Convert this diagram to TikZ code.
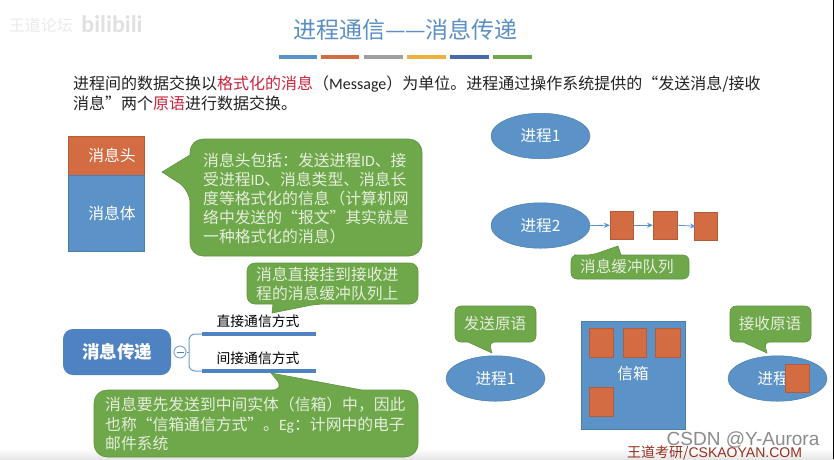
\documentclass[tikz,border=0pt]{standalone}
\usepackage{fontspec}
\setmainfont{Noto Sans CJK SC}
\newfontfamily\latf{Carlito}
\newfontfamily\arif{Liberation Sans}
\newcommand{\la}[1]{{\latf #1}}
\usetikzlibrary{shapes.geometric,arrows.meta}
\definecolor{cblue}{HTML}{5B93C8}
\definecolor{cdblue}{HTML}{4E82C0}
\definecolor{corange}{HTML}{D36C43}
\definecolor{cgreen}{HTML}{6FA84A}
\definecolor{cgborder}{HTML}{5F9440}
\definecolor{cred}{HTML}{C8243C}
\definecolor{cbody}{HTML}{222222}
\definecolor{ctitle}{HTML}{5B8FC4}
\definecolor{cgray}{HTML}{A0A0A0}
\definecolor{cyellow}{HTML}{EDB23C}
\definecolor{cnavy}{HTML}{4669A8}
\definecolor{cwtext}{HTML}{E4EEDC}
\definecolor{cbrown}{HTML}{9A2E1E}
\tikzset{
  bubble/.style={fill=cgreen,draw=cgborder,line width=0.6pt},
  btext/.style={text=cwtext,font=\fontsize{15.8}{19.2}\selectfont,align=left,anchor=west,inner sep=0pt},
  proc/.style={ellipse,fill=cblue,draw=cblue!85!black,line width=0.5pt,minimum width=99pt,minimum height=45.5pt,inner sep=0pt,text=white,font=\fontsize{15.6}{18}\selectfont},
  msg/.style={rectangle,fill=corange,draw=corange!85!black,line width=0.5pt,inner sep=0pt,anchor=north west},
  bar/.style={line width=3.6pt,draw=cdblue},
  tbar/.style={line width=3.8pt},
  link/.style={draw=cblue,line width=0.8pt,-{Stealth[length=6pt,width=5pt]}},
  blab/.style={font=\fontsize{13.8}{16}\selectfont,text=black,inner sep=0pt}
}
\begin{document}
\begin{tikzpicture}[x=1pt,y=-1pt]
\useasboundingbox (0,0) rectangle (834,459);
\fill[white] (0,0) rectangle (834,459);
\shade[top color=white,bottom color=black!10] (0,449) rectangle (834,459);
% watermark
\node[inner sep=0pt,text=black!8,font=\fontsize{16}{18}\selectfont] (wm1) at (41,25) {王道论坛};
\node[inner sep=0pt,text=black!12,font=\bfseries\fontsize{24}{26}\selectfont\latf] (wm2) at (112,24) {bilibili};
% title
\node[inner sep=0pt,text=ctitle,font=\fontsize{23}{26}\selectfont] (title) at (405.5,30) {进程通信—\kern-1pt—消息传递};
\draw[tbar,draw=cblue] (279,57) -- (317,57);
\draw[tbar,draw=corange] (321,57) -- (359,57);
\draw[tbar,draw=cgray] (364,57) -- (403,57);
\draw[tbar,draw=cyellow] (407,57) -- (446,57);
\draw[tbar,draw=cnavy] (450,57) -- (489,57);
\draw[tbar,draw=cgreen] (493,57) -- (532,57);
% body
\node[inner sep=0pt,anchor=west,align=left,text=cbody,font=\fontsize{16}{19.5}\selectfont] (intro) at (73,93.5)
 {进程间的数据交换以\textcolor{cred}{格式化的消息}（\la{Message}）为单位。进程通过操作系统提供的“发送消息/接收\\
  消息”两个\textcolor{cred}{原语}进行数据交换。};
% message
\node[msg,minimum width=76pt,minimum height=39pt] (head) at (68,136) {};
\node[msg,fill=cblue,draw=cblue!85!black,minimum width=76pt,minimum height=76pt] (bodyb) at (68,175) {};
\node[inner sep=0pt,text=white,font=\fontsize{15.8}{18}\selectfont] (headt) at (112,155.5) {消息头};
\node[inner sep=0pt,text=white,font=\fontsize{15.8}{18}\selectfont] (bodyt) at (112,213) {消息体};
% callout 1
\draw[bubble,rounded corners=13pt] (300,139) -- (422,139) -- (422,256) -- (190,256) -- (190,190) [sharp corners] -- (162,172) -- (190,155) [rounded corners=13pt] -- (190,139) -- cycle;
\node[btext] (c1) at (203,198.5) {消息头包括：发送进程\la{ID}、接\\受进程\la{ID}、消息类型、消息长\\度等格式化的信息（计算机网\\络中发送的“报文”其实就是\\一种格式化的消息）};
% callout 2
\draw[bubble,rounded corners=8pt] (330,263) -- (418,263) -- (418,304) -- (317,304) [sharp corners] -- (272,313) -- (273,304) [rounded corners=8pt] -- (247,304) -- (247,263) -- cycle;
\node[btext] (c2) at (256,284) {消息直接挂到接收进\\程的消息缓冲队列上};
% mind map
\node[rectangle,rounded corners=10pt,fill=cdblue,minimum width=108pt,minimum height=46pt,inner sep=0pt,text=white,font=\bfseries\fontsize{17.5}{20}\selectfont] (root) at (117,352) {消息传递};
\node[circle,draw=cdblue!70,line width=1pt,fill=white,minimum size=12pt,inner sep=0pt] (minus) at (180,352) {};
\draw[cdblue,line width=1pt] (176.5,352) -- (183.5,352);
\coordinate (d1) at (202,334);
\coordinate (d2) at (316,334);
\coordinate (i1) at (202,371);
\coordinate (i2) at (316,371);
\draw[cdblue!80,line width=1pt,rounded corners=6pt] (d1) -- (189,334) -- (189,371) -- (i1);
\draw[cdblue!80,line width=1pt] (minus.east) -- (189,352);
\draw[bar] (d1) -- (d2);
\draw[bar] (i1) -- (i2);
\node[blab] (ld) at (258,321) {直接通信方式};
\node[blab] (li) at (258,358) {间接通信方式};
% callout 3
\draw[bubble,rounded corners=13pt] (200,390) -- (285,390) [sharp corners] -- (271,373) -- (362,390) [rounded corners=13pt] -- (418,390) -- (418,457) -- (94,457) -- (94,390) -- cycle;
\node[btext] (c3) at (105,424) {消息要先发送到中间实体（信箱）中，因此\\也称“信箱通信方式”。\la{Eg}：计网中的电子\\邮件系统};
% processes
\node[proc] (p1) at (540.5,136) {进程1};
\node[proc] (p2) at (540.5,225.5) {进程2};
\node[msg,minimum width=23pt,minimum height=28pt] (q1) at (610,211) {};
\node[msg,minimum width=24pt,minimum height=28pt] (q2) at (653,211) {};
\node[msg,minimum width=23pt,minimum height=28pt] (q3) at (694,212) {};
\draw[link] (p2.east) -- (q1.west);
\draw[link] (q1.east) -- (q2.west);
\draw[link] (q2.east) -- ([xshift=2pt]q3.west);
% queue callout
\draw[bubble,rounded corners=6pt] (580,255) -- (592,255) [sharp corners] -- (618,246) -- (621,255) [rounded corners=6pt] -- (689,255) -- (689,279) -- (571,279) -- (571,255) -- cycle;
\node[inner sep=0pt,text=cwtext,font=\fontsize{15.6}{18}\selectfont] (qt) at (627,267) {消息缓冲队列};
% send
\draw[bubble,rounded corners=6pt] (495,306) -- (536,306) -- (536,342) -- (489,342) [sharp corners] -- (492,353) -- (468,342) [rounded corners=6pt] -- (455,342) -- (455,306) -- cycle;
\node[inner sep=0pt,text=cwtext,font=\fontsize{15.6}{18}\selectfont] (st) at (495,324) {发送原语};
\node[proc] (s1) at (495.5,378.5) {进程1};
% mailbox
\node[rectangle,fill=cblue,draw=cblue!85!black,line width=0.5pt,minimum width=104pt,minimum height=108pt,inner sep=0pt,anchor=north west] (mb) at (581,321) {};
\node[inner sep=0pt,text=white,font=\fontsize{15.6}{18}\selectfont] (mbt) at (633,374) {信箱};
\node[msg,minimum width=24pt,minimum height=29pt] (m1) at (589,328) {};
\node[msg,minimum width=23pt,minimum height=29pt] (m2) at (623,328) {};
\node[msg,minimum width=25pt,minimum height=29pt] (m3) at (655,328) {};
\node[msg,minimum width=24pt,minimum height=29pt] (m4) at (589,387) {};
% receive
\draw[bubble,rounded corners=6pt] (770,306) -- (811,306) -- (811,342) -- (764,342) [sharp corners] -- (767,353) -- (743,342) [rounded corners=6pt] -- (730,342) -- (730,306) -- cycle;
\node[inner sep=0pt,text=cwtext,font=\fontsize{15.6}{18}\selectfont] (rt) at (770,324) {接收原语};
\node[proc] (r1) at (777.5,378.5) {进程1};
\node[msg,minimum width=24pt,minimum height=28pt] (rm) at (785,364) {};
% watermarks
\node[inner sep=0pt,text=black!45,font=\arif\fontsize{19}{22}\selectfont] (w3) at (743,440) {CSDN @Y-Aurora};
\node[inner sep=0pt,text=cbrown,font=\fontsize{14}{15}\selectfont] (w4) at (714.5,452.5) {王道考研/{\arif CSKAOYAN.COM}};
% right frame edge
\fill[black] (833,0) rectangle (834,459);
\end{tikzpicture}
\end{document}
